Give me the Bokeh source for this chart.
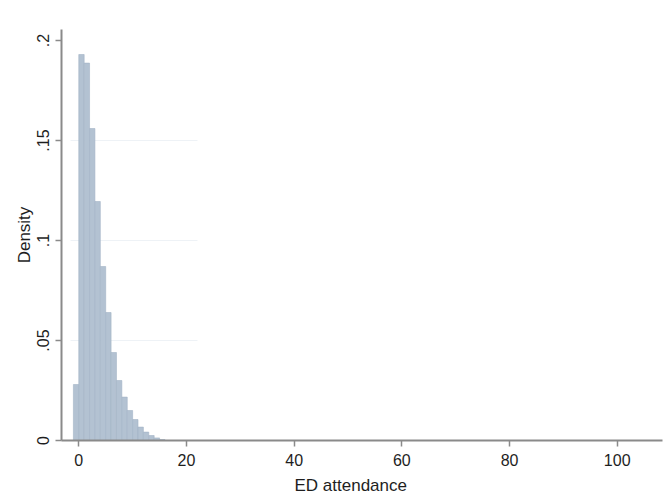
from bokeh.plotting import figure
from bokeh.models import Range1d, FixedTicker, Title, ColumnDataSource
from bokeh.embed import file_html
from bokeh.resources import INLINE

# ---- data ----
bin_left = [-1, 0, 1, 2, 3, 4, 5, 6, 7, 8, 9, 10, 11, 12, 13, 14, 15]
bin_width = 1.0
density = [0.028, 0.193, 0.1887, 0.156, 0.1195, 0.087, 0.064, 0.044, 0.030,
           0.0217, 0.015, 0.0105, 0.0067, 0.0042, 0.0025, 0.0013, 0.0005]
x_ticks = [0, 20, 40, 60, 80, 100]
y_ticks = [0, 0.05, 0.1, 0.15, 0.2]
y_tick_labels = ["0", ".05", ".1", ".15", ".2"]
x_title = "ED attendance"
y_title = "Density"

FONT = "Liberation Sans"
AXIS_COL = "#8a8a8a"
TEXT_COL = "#1e1e1e"

p = figure(width=667, height=503, output_backend="svg", toolbar_location=None,
           x_range=Range1d(-3.21, 108.41), y_range=Range1d(0, 0.2055),
           min_border_left=61, min_border_right=5, min_border_top=29,
           min_border_bottom=63)
p.outline_line_color = None
p.background_fill_color = "white"
p.border_fill_color = "white"

src = ColumnDataSource(dict(
    left=bin_left,
    right=[b + bin_width for b in bin_left],
    top=density,
))
p.quad(left="left", right="right", bottom=0, top="top", source=src,
       fill_color="#b3c2d2", line_color="#a2b3c6", line_width=0.6)

# grid (faint, only over the left part as in the reference)
p.xgrid.visible = False
p.ygrid.grid_line_color = "#eef2f6"
p.ygrid.grid_line_width = 1
p.ygrid.cross_bounds = (-1.5, 22)
p.ygrid.ticker = FixedTicker(ticks=y_ticks[1:-1])

# x axis
xa = p.xaxis[0]
xa.ticker = FixedTicker(ticks=x_ticks)
xa.axis_line_color = AXIS_COL
xa.axis_line_width = 2
xa.major_tick_line_color = AXIS_COL
xa.major_tick_line_width = 1.5
xa.major_tick_out = 6
xa.major_tick_in = 0
xa.minor_tick_line_color = None
xa.major_label_standoff = 7
xa.major_label_text_font = FONT
xa.major_label_text_font_size = "16px"
xa.major_label_text_color = TEXT_COL

# y axis
ya = p.yaxis[0]
ya.ticker = FixedTicker(ticks=y_ticks)
ya.major_label_overrides = {t: l for t, l in zip(y_ticks, y_tick_labels)}
ya.major_label_orientation = "vertical"
ya.axis_line_color = AXIS_COL
ya.axis_line_width = 2
ya.major_tick_line_color = AXIS_COL
ya.major_tick_line_width = 1.5
ya.major_tick_out = 6
ya.major_tick_in = 0
ya.minor_tick_line_color = None
ya.major_label_standoff = 7
ya.major_label_text_font = FONT
ya.major_label_text_font_size = "16px"
ya.major_label_text_color = TEXT_COL
ya.axis_label = y_title
ya.axis_label_text_font = FONT
ya.axis_label_text_font_size = "17px"
ya.axis_label_text_font_style = "normal"
ya.axis_label_text_color = TEXT_COL
ya.axis_label_standoff = 0

# x-axis title placed below the axis, left-aligned with an offset
p.add_layout(Title(text=x_title, align="left", offset=233, standoff=11,
                   text_font=FONT, text_font_size="17px",
                   text_font_style="normal", text_color=TEXT_COL), "below")

open("out.html", "w").write(file_html(p, INLINE))
